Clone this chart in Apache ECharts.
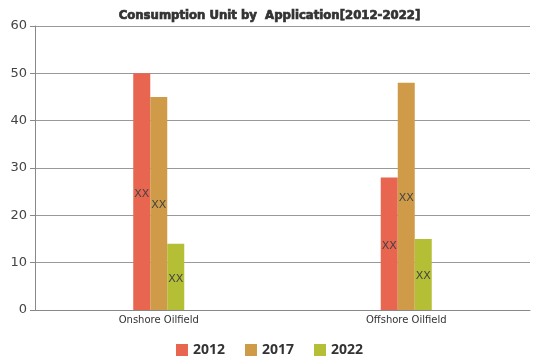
<!DOCTYPE html>
<html><head><meta charset="utf-8">
<script src="https://cdn.jsdelivr.net/npm/echarts@6/dist/echarts.min.js"></script>
<style>html,body{margin:0;padding:0;background:#fff}#c{width:539px;height:359px}</style>
</head><body><div id="c"></div>
<script>
const categories = ['Onshore Oilfield', 'Offshore Oilfield'];
const seriesNames = ['2012', '2017', '2022'];
const values2012 = [50, 28];
const values2017 = [45, 48];
const values2022 = [14, 15];
const yTicks = [0, 10, 20, 30, 40, 50, 60];
const colors = ['#e8654f', '#cf9b48', '#b4bf36'];
const allValues = [values2012, values2017, values2022];

const chart = echarts.init(document.getElementById('c'), null, {renderer: 'canvas'});
chart.setOption({
  animation: false,
  title: {
    text: 'Consumption Unit by  Application[2012-2022]',
    left: 'center', top: 4,
    textStyle: {fontFamily: 'DejaVu Sans Condensed', fontWeight: 'bold', fontSize: 13, color: '#333',
      textBorderColor: '#333', textBorderWidth: 0.7}
  },
  legend: {
    bottom: -3, left: 'center', itemWidth: 12, itemHeight: 12, itemGap: 20,
    icon: 'rect',
    textStyle: {fontSize: 14, fontWeight: 'bold', color: '#333', fontFamily: 'Open Sans'},
    data: seriesNames
  },
  grid: {left: 35, right: 9, top: 26, bottom: 49, containLabel: false},
  xAxis: {
    type: 'category', data: categories,
    axisLine: {lineStyle: {color: '#888', width: 1}},
    axisTick: {alignWithLabel: true, length: 4, lineStyle: {color: '#888'}},
    axisLabel: {fontSize: 10, color: '#333', margin: 5, fontFamily: 'DejaVu Sans'}
  },
  yAxis: {
    type: 'value', min: yTicks[0], max: yTicks[yTicks.length - 1], interval: 10,
    axisLine: {show: true, lineStyle: {color: '#888'}},
    axisTick: {show: true, length: 5, lineStyle: {color: '#888'}},
    axisLabel: {fontSize: 13, color: '#444', margin: 8, fontFamily: 'DejaVu Sans'},
    splitLine: {lineStyle: {color: '#999'}}
  },
  series: seriesNames.map((n, i) => ({
    name: n, type: 'bar', data: allValues[i],
    barWidth: 17, barGap: '0%',
    itemStyle: {color: colors[i]},
    label: {show: true, position: 'inside', offset: [0, 2], formatter: 'XX', color: '#444', fontSize: 11, fontFamily: 'DejaVu Sans'}
  }))
});
</script></body></html>
